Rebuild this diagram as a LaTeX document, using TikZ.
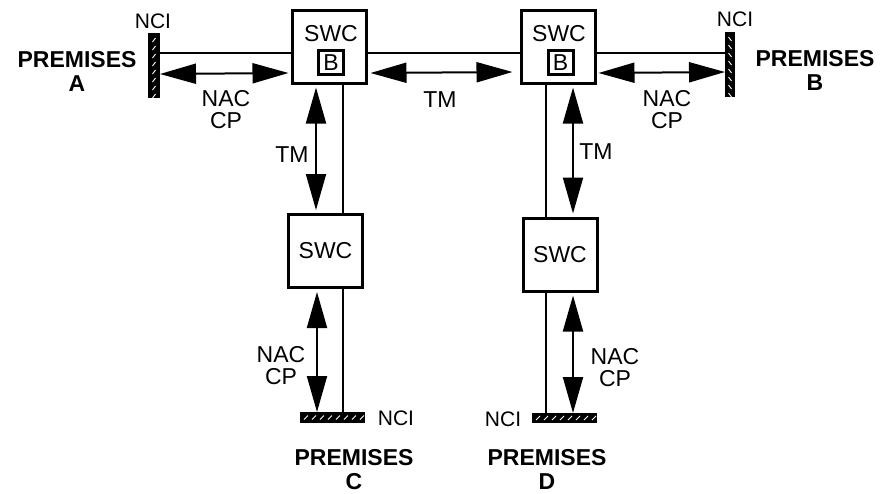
\documentclass[tikz,border=0pt]{standalone}
\usepackage{fontspec}
\setmainfont{Liberation Sans}
\usetikzlibrary{arrows.meta}
\tikzset{
  swcbox/.style={draw, line width=3pt, minimum width=74pt, minimum height=73pt, inner sep=0pt},
  bbox/.style={draw, line width=3pt, minimum width=25pt, minimum height=24pt, inner sep=0pt, font=\fontsize{23}{24}\selectfont},
  lbl/.style={inner sep=0pt, align=center, font=\fontsize{23}{22}\selectfont},
  ncilbl/.style={inner sep=0pt, font=\fontsize{21}{22}\selectfont},
  prem/.style={inner sep=0pt, align=center, font=\fontsize{23}{24}\selectfont\bfseries},
  ncibar/.style={fill=black, inner sep=0pt, outer sep=0pt},
  wire/.style={line width=2pt},
  biarrow/.style={line width=2pt, {Triangle[length=36pt,width=20pt]}-{Triangle[length=36pt,width=20pt]}},
  hatch/.style={white, line width=0.9pt}
}
\begin{document}
\begin{tikzpicture}[x=1pt,y=-1pt]
\useasboundingbox (0,0) rectangle (882,493);

% NCI bars
\node[ncibar, minimum width=12pt, minimum height=65pt] (nciA) at (154,65.5) {};
\node[ncibar, minimum width=10pt, minimum height=65pt] (nciB) at (730,64.5) {};
\node[ncibar, minimum width=65pt, minimum height=11pt] (nciC) at (332.5,417.5) {};
\node[ncibar, minimum width=65pt, minimum height=10pt] (nciD) at (564.5,418) {};
\foreach \y in {38,46,...,94} \draw[hatch] (155.5,\y) -- (152.5,\y+4);
\foreach \y in {37,45,...,93} \draw[hatch] (728.5,\y) -- (731.5,\y+4);
\foreach \x in {304,312,...,360} \draw[hatch] (\x,419.5) -- (\x+4,415.5);
\foreach \x in {536,544,...,592} \draw[hatch] (\x,420) -- (\x+4,416);

% SWC boxes
\node[swcbox] (swc1) at (329,46.5) {};
\node[inner sep=0pt, font=\fontsize{23}{24}\selectfont] (t1) at (331,34) {SWC};
\node[bbox] (b1) at (331,62.5) {B};
\node[swcbox] (swc2) at (558,46.5) {};
\node[inner sep=0pt, font=\fontsize{23}{24}\selectfont] (t2) at (559,34) {SWC};
\node[bbox] (b2) at (560.5,62.5) {B};
\node[swcbox, font=\fontsize{23}{24}\selectfont] (swc3) at (325.5,251) {SWC};
\node[swcbox, font=\fontsize{23}{24}\selectfont] (swc4) at (560,254.5) {SWC};

% wires
\draw[wire] (nciA.east |- 0,53) -- (swc1.west |- 0,53);
\draw[wire] (swc1.east |- 0,53) -- (swc2.west |- 0,53);
\draw[wire] (swc2.east |- 0,53) -- (nciB.west |- 0,53);
\draw[wire] (swc1.south -| 343,0) -- (swc3.north -| 343,0);
\draw[wire] (swc3.south -| 343,0) -- (nciC.north -| 343,0);
\draw[wire] (swc2.south -| 546,0) -- (swc4.north -| 546,0);
\draw[wire] (swc4.south -| 546,0) -- (nciD.north -| 546,0);

% arrows
\draw[biarrow] (nciA.east |- 0,74) -- ([xshift=-2pt]swc1.west |- 0,73);
\draw[biarrow] ([xshift=3pt]swc1.east |- 0,73) -- ([xshift=-7pt]swc2.west |- 0,72);
\draw[biarrow] ([xshift=2pt]swc2.east |- 0,73) -- (nciB.west |- 0,72);
\draw[biarrow] ([yshift=-3pt]swc1.south -| 316,0) -- ([yshift=3pt]swc3.north -| 316,0);
\draw[biarrow] ([yshift=-3pt]swc3.south -| 317,0) -- (nciC.north -| 317,0);
\draw[biarrow] ([yshift=-3pt]swc2.south -| 573,0) -- ([yshift=3pt]swc4.north -| 573,0);
\draw[biarrow] ([yshift=-3pt]swc4.south -| 573,0) -- (nciD.north -| 573,0);

% labels
\node[ncilbl] (lA) at (153,21) {NCI};
\node[ncilbl] (lB) at (735,19) {NCI};
\node[ncilbl] (lC) at (396,418) {NCI};
\node[ncilbl] (lD) at (503,419) {NCI};
\node[lbl] (ncA) at (226,110) {NAC\\CP};
\node[lbl] (ncB) at (667,110) {NAC\\CP};
\node[lbl] (ncC) at (281,366) {NAC\\CP};
\node[lbl] (ncD) at (615,368) {NAC\\CP};
\node[lbl] (tm1) at (440,100) {TM};
\node[lbl] (tm2) at (292,155) {TM};
\node[lbl] (tm3) at (596,152) {TM};
\node[prem] (pA) at (77,71) {PREMISES\\A};
\node[prem] (pB) at (815,70) {PREMISES\\B};
\node[prem] (pC) at (354,470) {PREMISES\\C};
\node[prem] (pD) at (547,469) {PREMISES\\D};
\end{tikzpicture}
\end{document}
